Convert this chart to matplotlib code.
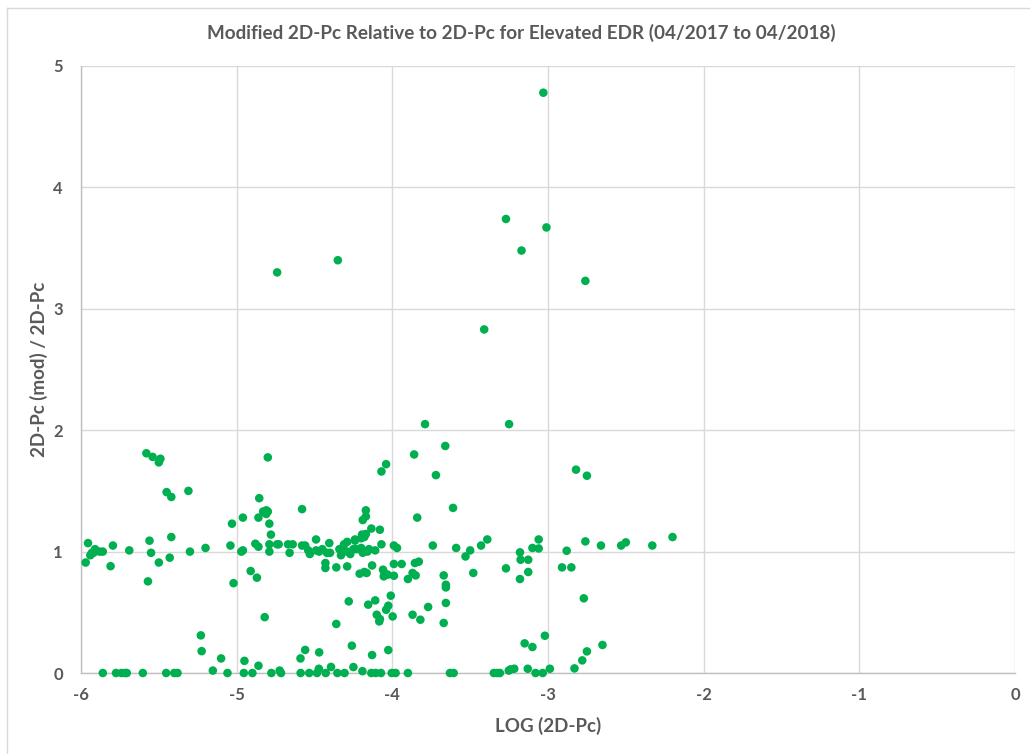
import numpy as np
import matplotlib.pyplot as plt
from matplotlib.lines import Line2D

# ---------------- data ----------------
# points well above the y=1 band
log_pc_high = [-3.03, -3.27, -3.01, -3.17, -4.35, -4.74, -2.76, -3.41, -3.79, -3.25,
               -3.66, -3.86, -3.72, -4.04, -4.07, -2.82, -2.75,
               -5.58, -5.54, -5.49, -5.50, -4.80]
ratio_high = [4.78, 3.74, 3.67, 3.48, 3.40, 3.30, 3.23, 2.83, 2.05, 2.05,
              1.87, 1.80, 1.63, 1.72, 1.66, 1.675, 1.625,
              1.81, 1.78, 1.765, 1.735, 1.776]

# points around the y=1 band
log_pc_mid = [-5.45, -5.42, -5.31, -4.855, -4.96, -4.83, -4.81, -4.80, -4.81, -4.86,
              -4.79, -5.03, -4.78, -4.58, -3.61, -3.84, -4.17, -4.17, -4.19, -4.135,
              -4.08, -4.195, -4.18, -4.17, -4.24, -4.29, -4.405,
              -5.955, -5.91, -5.93, -5.94, -5.92, -5.88, -5.86, -5.97, -5.795, -5.81,
              -5.69, -5.56, -5.55, -5.50, -5.43, -5.42, -5.57, -5.30, -5.20, -5.04,
              -4.97, -4.96, -5.02, -4.91, -4.87, -4.88, -4.86, -4.79, -4.79, -4.74,
              -4.73, -4.67, -4.66, -4.64, -4.58, -4.56, -4.54, -4.53, -4.49, -4.49,
              -4.47, -4.45, -4.42, -4.40, -4.34, -4.33, -4.32, -4.31, -4.29, -4.27,
              -4.25, -4.24, -4.23, -4.20, -4.20, -4.19, -4.16, -4.15, -4.11, -4.07,
              -3.99, -3.97,
              -4.43, -4.43, -4.36, -4.29, -4.13, -4.21, -4.18, -4.165, -4.06, -4.05,
              -4.055, -4.03, -3.99, -3.99, -3.94, -3.855, -3.83, -3.87, -3.85, -3.90,
              -3.74, -3.59, -3.53, -3.50, -3.48, -3.43, -3.39, -3.67, -3.656, -3.656,
              -3.06, -3.10, -3.06, -3.18, -3.176, -3.127, -3.27, -3.127, -3.18, -2.88,
              -2.91, -2.85, -2.76, -2.66, -2.53, -2.50, -2.33, -2.20]
ratio_mid = [1.49, 1.45, 1.50, 1.44, 1.28, 1.33, 1.34, 1.33, 1.31, 1.28,
             1.23, 1.23, 1.14, 1.35, 1.36, 1.28, 1.34, 1.29, 1.26, 1.19,
             1.18, 1.14, 1.12, 1.145, 1.09, 1.08, 1.07,
             1.07, 1.02, 0.99, 0.97, 0.99, 1.00, 1.00, 0.91, 1.05, 0.88,
             1.01, 1.09, 0.99, 0.91, 0.95, 1.12, 0.755, 1.00, 1.03, 1.05,
             1.00, 1.01, 0.74, 0.84, 0.785, 1.065, 1.04, 1.06, 1.00, 1.06,
             1.06, 1.06, 0.99, 1.06, 1.05, 1.05, 1.01, 0.98, 1.10, 1.01,
             1.00, 1.02, 0.99, 0.99, 1.02, 0.97, 1.03, 1.06, 1.00, 0.98,
             1.02, 1.10, 1.02, 1.03, 1.11, 0.99, 1.00, 1.02, 1.01, 1.06,
             1.05, 1.03,
             0.906, 0.865, 0.87, 0.878, 0.886, 0.818, 0.832, 0.824, 0.851, 0.824,
             0.796, 0.81, 0.898, 0.801, 0.898, 0.906, 0.917, 0.824, 0.804, 0.774,
             1.05, 1.03, 0.96, 1.01, 0.824, 1.05, 1.10, 0.804, 0.727, 0.705,
             1.10, 1.03, 1.026, 0.994, 0.933, 0.933, 0.862, 0.832, 0.774, 1.007,
             0.87, 0.87, 1.084, 1.05, 1.05, 1.076, 1.05, 1.12]

# points between the band and zero
log_pc_low = [-4.82, -3.656, -3.67, -4.28, -4.155, -4.11, -4.10, -4.084, -4.08, -4.04,
              -4.026, -4.01, -3.998, -4.36, -3.87, -3.82, -3.77, -2.77,
              -5.23, -5.225, -5.10, -4.95, -4.86, -4.59, -4.56, -4.47,
              -4.26, -4.13, -4.026, -4.25,
              -3.02, -3.15, -3.10, -2.65, -2.75, -2.78, -2.83]
ratio_low = [0.46, 0.577, 0.412, 0.59, 0.563, 0.598, 0.48, 0.425, 0.445, 0.521,
             0.554, 0.637, 0.466, 0.404, 0.48, 0.439, 0.544, 0.615,
             0.31, 0.18, 0.12, 0.10, 0.06, 0.12, 0.19, 0.17,
             0.225, 0.148, 0.189, 0.049,
             0.307, 0.244, 0.214, 0.231, 0.178, 0.104, 0.038]

# points sitting on (or just above) zero
log_pc_zero = [-5.86, -5.775, -5.74, -5.717, -5.706, -5.603, -5.453, -5.401, -5.38, -5.153,
               -5.059, -4.954, -4.899, -4.777, -4.724, -4.715, -4.589, -4.534, -4.484, -4.472,
               -4.428, -4.394, -4.353, -4.307, -4.192, -4.135, -4.107, -4.073, -4.004, -3.979,
               -3.90, -3.63, -3.606, -3.348, -3.325, -3.309, -3.252, -3.24, -3.217, -3.13,
               -3.08, -3.034, -2.988]
ratio_zero = [0, 0, 0, 0, 0, 0, 0, 0, 0, 0.02,
              0, 0, 0, 0, 0.02, 0, 0, 0, 0, 0.035,
              0, 0.05, 0, 0, 0.015, 0, 0, 0, 0, 0,
              0, 0, 0, 0, 0, 0, 0.02, 0.03, 0.035, 0.035,
              0, 0, 0.035]

title = 'Modified 2D-Pc Relative to 2D-Pc for Elevated EDR (04/2017 to 04/2018)'
gray = '#595959'
green = '#00B050'

plt.rcParams['font.family'] = ['Lato', 'DejaVu Sans']
plt.rcParams['axes.unicode_minus'] = False

fig = plt.figure(figsize=(10.3, 7.54), dpi=100)
ax = fig.add_axes([81 / 1030, 1 - 673 / 754, (1015 - 81) / 1030, (673 - 66) / 754])

x_all = log_pc_high + log_pc_mid + log_pc_low + log_pc_zero
y_all = ratio_high + ratio_mid + ratio_low + ratio_zero
ax.scatter(x_all, y_all, s=38, color=green, edgecolors='none', zorder=3, clip_on=False)

ax.set_xlim(-6, 0)
ax.set_ylim(0, 5)
ax.set_xticks(np.arange(-6, 1, 1))
ax.set_yticks(np.arange(0, 6, 1))
ax.grid(True, color='#d9d9d9', linewidth=1.0)
ax.set_axisbelow(True)
for s in ['top', 'right']:
    ax.spines[s].set_visible(False)
for s in ['left', 'bottom']:
    ax.spines[s].set_color('#bfbfbf')
    ax.spines[s].set_linewidth(1.0)
ax.tick_params(length=0, labelsize=12, labelcolor=gray)
ax.tick_params(axis='y', pad=13)
ax.tick_params(axis='x', pad=10)
for lab in ax.get_xticklabels() + ax.get_yticklabels():
    lab.set_fontweight('bold')

fig.text(521 / 1030, 1 - 33 / 754, title, fontsize=13.6, color=gray, fontweight='bold',
         ha='center', va='center')
ax.set_xlabel('LOG (2D-Pc)', fontsize=13.5, color=gray, fontweight='bold', labelpad=10)
ax.set_ylabel('2D-Pc (mod) / 2D-Pc', fontsize=13.5, color=gray, fontweight='bold', labelpad=4)

# outer chart frame (only left and top are visible in the original crop)
fig.add_artist(Line2D([6.5 / 1030, 6.5 / 1030], [0, 1 - 8 / 754], color='#d9d9d9', lw=1.0))
fig.add_artist(Line2D([6.5 / 1030, 1], [1 - 8 / 754, 1 - 8 / 754], color='#d9d9d9', lw=1.0))

fig.savefig('out.png', dpi=100)
